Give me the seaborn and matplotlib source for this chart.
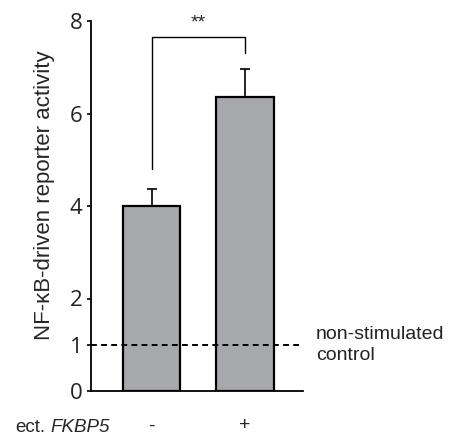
import matplotlib
matplotlib.use("Agg")
import matplotlib.pyplot as plt
import seaborn as sns
import numpy as np

conditions = ["-", "+"]
values = [4.0, 6.35]
errors = [0.37, 0.62]
yticks = [0, 1, 2, 4, 6, 8]
control_level = 1.0
sig_label = "**"

sns.set_style("white")
plt.rcParams['font.family'] = ['Liberation Sans', 'DejaVu Sans']

W, H = 457, 437
fig = plt.figure(figsize=(W / 100, H / 100), dpi=100)
ax = fig.add_axes([91 / W, (H - 391) / H, (303 - 91) / W, (391 - 21) / H])

sns.barplot(x=conditions, y=values, ax=ax, color="#A7A8AB", width=0.61,
            edgecolor="black", linewidth=1.6, saturation=1, errorbar=None)
x = np.arange(len(conditions))
ax.errorbar(x, values, yerr=[np.zeros(len(errors)), errors], fmt="none",
            ecolor="black", elinewidth=1.2, capsize=3.5, capthick=1.2, zorder=3)

ax.set_xlim(-0.647, 1.62)
ax.set_ylim(0, 8)
ax.set_yticks(yticks)
ax.set_yticklabels([str(t) for t in yticks], fontsize=16, family=['Open Sans', 'DejaVu Sans'],
                   color="#222222")
ax.tick_params(axis="y", length=3, width=1.2, pad=3, left=True, color="black")
ax.tick_params(axis="x", length=0, pad=19, labelsize=14)
for s in ["top", "right"]:
    ax.spines[s].set_visible(False)
for s in ["left", "bottom"]:
    ax.spines[s].set_color("black")
    ax.spines[s].set_linewidth(1.3)

ax.axhline(control_level, color="black", linestyle=(0, (3, 2.2)), linewidth=1.4, zorder=4, clip_on=False)
ax.text(1.76, control_level, "non-stimulated\ncontrol", fontsize=14, va="center", ha="left",
        linespacing=1.3, clip_on=False, color="#222222")

ax.set_ylabel("NF-κB-driven reporter activity", fontsize=16, va="center")
ax.yaxis.set_label_coords(-0.217, 0.53)

# significance bracket
yb = 7.66
ax.plot([0, 0, 1, 1], [4.8, yb, yb, 7.31], color="black", linewidth=1.0, clip_on=False)
ax.text(0.5, 7.78, sig_label, ha="center", va="bottom", fontsize=14)

fig.text(15 / W, (H - 432) / H, "ect.", fontsize=13.5, va="baseline", ha="left")
fig.text(50 / W, (H - 432) / H, "FKBP5", fontsize=13.5, va="baseline", ha="left", style="italic")

fig.savefig("out.png", dpi=100)
